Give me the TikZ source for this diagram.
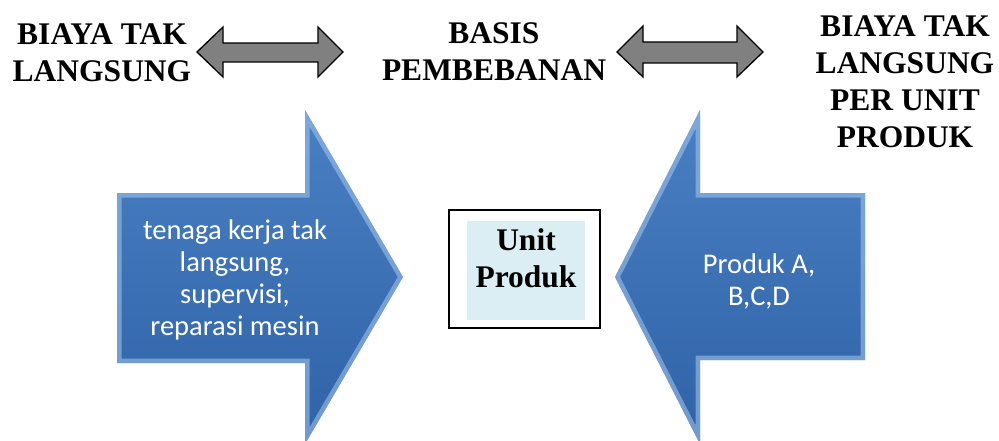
\documentclass[tikz,border=0pt]{standalone}
\usepackage{fontspec}
\setmainfont{Liberation Serif}
\newfontfamily\calib{Carlito}
\definecolor{arrowgray}{HTML}{808080}
\definecolor{bluetop}{HTML}{4A80C3}
\definecolor{bluebot}{HTML}{2F62A6}
\definecolor{bevel}{HTML}{A8C8EE}
\definecolor{paleblue}{HTML}{DAEEF3}
\begin{document}
\begin{tikzpicture}[x=1pt,y=-1pt,
  heading/.style={font=\bfseries\fontsize{31.5}{37}\selectfont,align=center,inner sep=0pt},
  bluetext/.style={font=\calib\fontsize{28.5}{32}\selectfont,text=white,align=center,inner sep=0pt},
  grayarrow/.style={fill=arrowgray,draw=black,line width=1.3pt,line join=miter},
  bevelline/.style={draw=bevel,line width=9pt,opacity=0.55,line join=miter},
  rightblue/.style={insert path={(117,193) -- (305,193) -- (305,110) -- (403,277)
      -- (305,444) -- (305,363) -- (117,363) -- cycle}},
  leftblue/.style={insert path={(865,193) -- (700,193) -- (700,110) -- (615,277)
      -- (700,444) -- (700,360) -- (865,360) -- cycle}}]
\useasboundingbox (0,0) rectangle (999,441);

% headings
\node[heading] (biaya) at (102,52.5) {BIAYA TAK\\LANGSUNG};
\node[heading] (basis) at (494,52) {BASIS\\PEMBEBANAN};
\node[heading] (perunit) at (905,82) {BIAYA TAK\\LANGSUNG\\PER UNIT\\PRODUK};

% double-headed gray arrows between the headings
\draw[grayarrow] (197,52) -- (223,27) -- (223,43) -- (318,43) -- (318,27) -- (343,52)
  -- (318,77) -- (318,62) -- (223,62) -- (223,77) -- cycle;
\draw[grayarrow] (617,52) -- (643,26) -- (643,42) -- (737,42) -- (737,26) -- (763,52)
  -- (737,77) -- (737,63) -- (643,63) -- (643,77) -- cycle;

% blue arrow pointing right
\begin{scope}
  \clip[rightblue];
  \shade[top color=bluetop,bottom color=bluebot] (117,110) rectangle (403,444);
  \path[bevelline,rightblue];
\end{scope}
% blue arrow pointing left
\begin{scope}
  \clip[leftblue];
  \shade[top color=bluetop,bottom color=bluebot] (615,110) rectangle (865,444);
  \path[bevelline,leftblue];
\end{scope}

\node[bluetext] (sumber) at (235,279.5) {tenaga kerja tak\\langsung,\\supervisi,\\reparasi mesin};
\node[bluetext] (produk) at (759,281) {Produk A,\\B,C,D};

% central box
\draw[line width=1.5pt] (449,210) rectangle (600,328);
\fill[paleblue] (467,221) rectangle (585,320);
\node[heading] (unit) at (526,258.5) {Unit\\Produk};
\end{tikzpicture}
\end{document}
